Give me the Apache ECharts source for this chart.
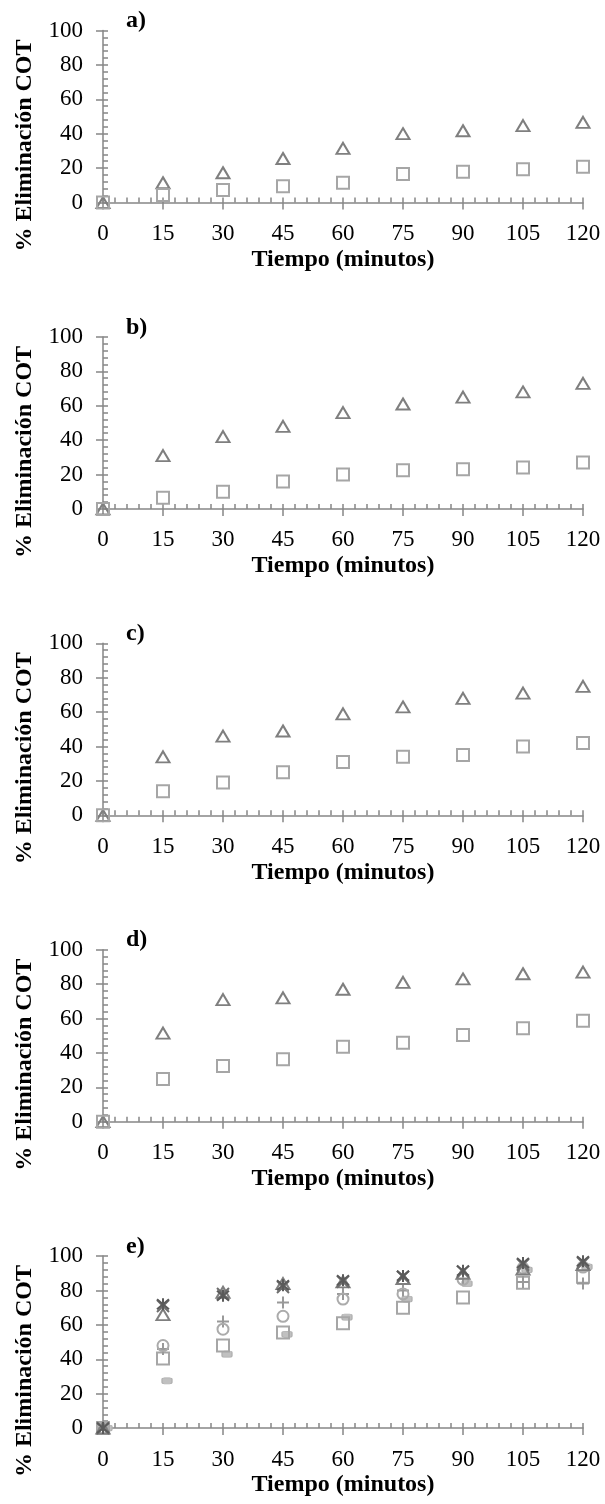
<!DOCTYPE html>
<html>
<head>
<meta charset="utf-8">
<script src="https://cdn.jsdelivr.net/npm/echarts@6/dist/echarts.min.js"></script>
<style>
html,body{margin:0;padding:0;background:#fff;}
#chart{width:605px;height:1504px;}
</style>
</head>
<body>
<div id="chart"></div>
<script>
// ---- data ----
const minutes = [0, 15, 30, 45, 60, 75, 90, 105, 120];
const panelLabels = ['a)', 'b)', 'c)', 'd)', 'e)'];
const xAxisTitle = 'Tiempo (minutos)';
const yAxisTitle = '% Eliminación COT';

const aTriangle = [0, 11.5, 17.3, 25.6, 31.5, 40, 41.7, 44.7, 46.6];
const aSquare   = [0, 4.3, 7.2, 9.5, 11.5, 16.5, 17.9, 19.4, 20.8];
const bTriangle = [0, 31, 42, 48, 56, 61, 65, 68, 73];
const bSquare   = [0, 6.5, 10, 16, 20, 22.5, 23, 24, 27];
const cTriangle = [0, 34, 46, 49, 59, 63, 68, 71, 75];
const cSquare   = [0, 14, 19, 25, 31, 34, 35, 40, 42];
const dTriangle = [0, 51.5, 71, 72, 77, 81, 83, 86, 87];
const dSquare   = [0, 24.8, 32.4, 36.3, 43.6, 45.9, 50.4, 54.3, 58.7];

const eAsterisk = [0, 72, 77, 83, 86, 88.5, 91.5, 96, 97];
const eCross    = [0, 71, 78, 82, 85, 88, 91, 95, 96];
const eTriangle = [0, 66, 79, 84, 85, 87, 90, 92.5, 95];
const eCircle   = [0, 48, 57.5, 65, 75, 78, 86.5, 93, 93.6];
const ePlus     = [0, 46, 62, 73, 78, 80, 87, 85, 84];
const eSquare   = [0, 40.5, 48, 55.6, 61, 70, 76, 84.5, 88];
const eBar      = [0, 27.5, 43, 54.5, 64.5, 75, 84, 92, 93.8];

// ---- styles ----
const FONT = '"Liberation Serif", "Times New Roman", serif';
const AXIS_COLOR = '#868686';
const PANEL_STEP = 306.4;
const GRID_TOP = 30.5;
const GRID_H = 172;

const styles = {
  triangle: { symbol: 'triangle', symbolSize: [13, 11], border: '#7f7f7f', fill: 'rgba(0,0,0,0)' },
  square:   { symbol: 'rect', symbolSize: 12, border: '#a6a6a6', fill: 'rgba(0,0,0,0)' },
  asterisk: { symbol: 'path://M0,0L10,10M10,0L0,10M5,-1L5,11', symbolSize: 12, border: '#5a5a5a', fill: 'rgba(0,0,0,0)' },
  cross:    { symbol: 'path://M0,0L10,10M10,0L0,10', symbolSize: 12, border: '#6e6e6e', fill: 'rgba(0,0,0,0)' },
  circle:   { symbol: 'circle', symbolSize: 11, border: '#ababab', fill: 'rgba(0,0,0,0)' },
  plus:     { symbol: 'path://M5,0L5,10M0,5L10,5', symbolSize: 12, border: '#999999', fill: 'rgba(0,0,0,0)' },
  bar:      { symbol: 'roundRect', symbolSize: [10, 6], border: '#b0b0b0', fill: '#c0c0c0', offset: [4, 0], bw: 1 }
};

const panels = [
  [['triangle', aTriangle], ['square', aSquare]],
  [['triangle', bTriangle], ['square', bSquare]],
  [['triangle', cTriangle], ['square', cSquare]],
  [['triangle', dTriangle], ['square', dSquare]],
  [['bar', eBar], ['square', eSquare], ['plus', ePlus], ['circle', eCircle], ['triangle', eTriangle], ['cross', eCross], ['asterisk', eAsterisk]]
];

const lineStyle = { color: AXIS_COLOR, width: 1.5 };
const grid = [], xAxis = [], yAxis = [], series = [], title = [];

panels.forEach((list, k) => {
  const off = PANEL_STEP * k;
  grid.push({ left: 103, width: 480, top: GRID_TOP + off, height: GRID_H, containLabel: false });
  title.push({
    text: panelLabels[k], left: 126, top: 9 + off, padding: 0,
    textStyle: { fontFamily: FONT, fontSize: 24, fontWeight: 'bold', color: '#000' }
  });
  xAxis.push({
    gridIndex: k, type: 'value', min: 0, max: 120, interval: 15, position: 'bottom',
    axisLine: { show: true, onZero: false, lineStyle },
    axisTick: { show: true, inside: false, length: 7, lineStyle },
    axisLabel: { margin: 20, fontFamily: FONT, fontSize: 23, color: '#000' },
    splitLine: { show: false },
    name: xAxisTitle, nameLocation: 'middle', nameGap: 45,
    nameTextStyle: { fontFamily: FONT, fontSize: 24, fontWeight: 'bold', color: '#000' }
  });
  xAxis.push({
    gridIndex: k, type: 'value', min: 0, max: 120, interval: 15, position: 'bottom',
    axisLine: { show: false, onZero: false },
    axisTick: { show: true, inside: true, length: 5, lineStyle },
    minorTick: { show: true, splitNumber: 5, length: 5, lineStyle },
    axisLabel: { show: false }, splitLine: { show: false }, minorSplitLine: { show: false }
  });
  yAxis.push({
    gridIndex: k, type: 'value', min: 0, max: 100, interval: 20, position: 'left',
    axisLine: { show: true, onZero: false, lineStyle },
    axisTick: { show: true, inside: false, length: 7, lineStyle },
    axisLabel: { margin: 20, fontFamily: FONT, fontSize: 23, color: '#000' },
    splitLine: { show: false },
    name: yAxisTitle, nameLocation: 'middle', nameGap: 66, nameRotate: 90,
    nameTextStyle: { fontFamily: FONT, fontSize: 24, fontWeight: 'bold', color: '#000', padding: [0, 58, 0, 0] }
  });
  yAxis.push({
    gridIndex: k, type: 'value', min: 0, max: 100, interval: 20, position: 'left',
    axisLine: { show: false, onZero: false },
    axisTick: { show: true, inside: true, length: 5, lineStyle },
    minorTick: { show: true, splitNumber: 5, length: 5, lineStyle },
    axisLabel: { show: false }, splitLine: { show: false }, minorSplitLine: { show: false }
  });
  list.forEach(([kind, values]) => {
    const s = styles[kind];
    series.push({
      type: 'scatter', xAxisIndex: 2 * k, yAxisIndex: 2 * k,
      data: minutes.map((m, i) => [m, values[i]]),
      symbol: s.symbol, symbolSize: s.symbolSize, symbolOffset: s.offset || [0, 0],
      clip: false, silent: true,
      itemStyle: { color: s.fill, borderColor: s.border, borderWidth: s.bw || 2, opacity: 1 }
    });
  });
});

const chart = echarts.init(document.getElementById('chart'), null, { renderer: 'canvas' });
chart.setOption({ animation: false, backgroundColor: '#fff', title, grid, xAxis, yAxis, series });
</script>
</body>
</html>
